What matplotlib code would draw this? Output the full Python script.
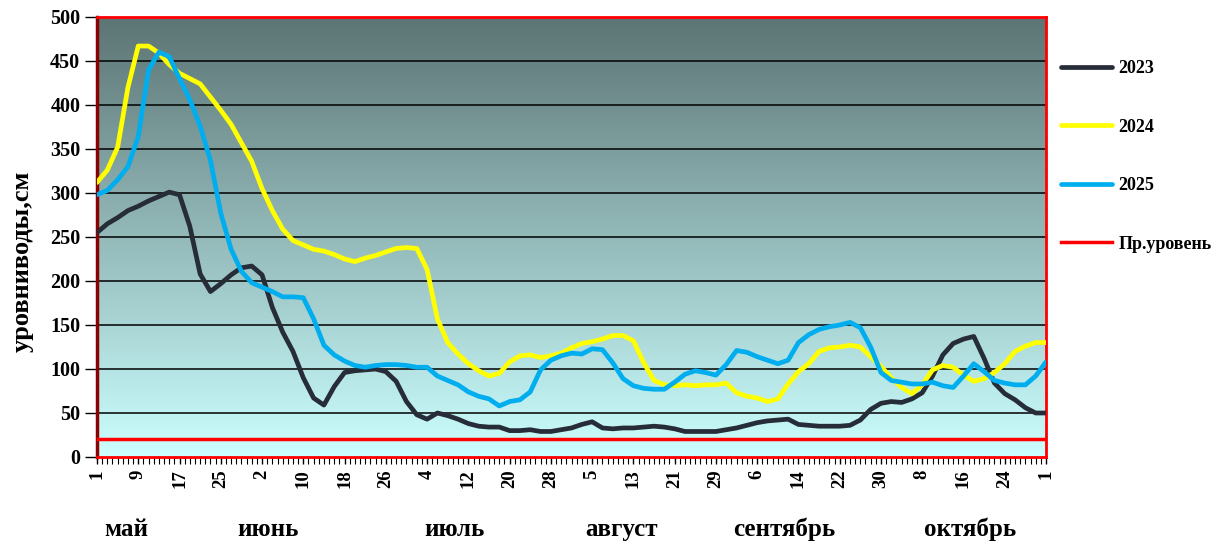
import numpy as np
import matplotlib
matplotlib.use("Agg")
import matplotlib.pyplot as plt
from matplotlib.colors import LinearSegmentedColormap

# day offset from 1 May (every 2 days up to 1 Nov)
days = np.arange(0, 185, 2)

lvl_2023 = [255, 265, 272, 280, 285, 291, 296, 301, 298, 262,
            208, 188, 197, 207, 215, 217, 207, 170, 142, 120,
            90, 67, 59, 80, 96, 98, 99, 100, 97, 86,
            63, 48, 43, 50, 47, 43, 38, 35, 34, 34,
            30, 30, 31, 29, 29, 31, 33, 37, 40, 33,
            32, 33, 33, 34, 35, 34, 32, 29, 29, 29,
            29, 31, 33, 36, 39, 41, 42, 43, 37, 36,
            35, 35, 35, 36, 42, 54, 61, 63, 62, 66,
            73, 92, 116, 129, 134, 137, 112, 84, 72, 65,
            56, 50, 50]

lvl_2024 = [312, 326, 352, 420, 467, 467, 459, 446, 436, 430,
            424, 409, 394, 378, 357, 336, 305, 280, 259, 246,
            241, 236, 234, 230, 225, 222, 226, 229, 233, 237,
            238, 237, 213, 157, 130, 117, 106, 98, 92, 95,
            108, 115, 116, 113, 115, 118, 124, 129, 131, 134,
            138, 138, 132, 107, 87, 82, 81, 82, 81, 82,
            82, 84, 73, 69, 67, 63, 66, 83, 97, 106,
            120, 124, 125, 127, 125, 114, 103, 90, 79, 72,
            82, 99, 104, 102, 93, 86, 89, 96, 106, 120,
            126, 130, 130]

lvl_2025 = [298, 303, 315, 330, 364, 440, 460, 455, 430, 406,
            376, 337, 277, 236, 211, 198, 193, 188, 182, 182,
            181, 157, 127, 116, 109, 104, 102, 104, 105, 105,
            104, 102, 102, 92, 87, 82, 74, 69, 66, 58,
            63, 65, 74, 99, 110, 115, 118, 117, 123, 122,
            107, 89, 81, 78, 77, 77, 85, 94, 98, 96,
            93, 105, 121, 119, 114, 110, 106, 110, 130, 139,
            145, 148, 150, 153, 147, 125, 96, 87, 85, 83,
            83, 85, 81, 79, 92, 106, 97, 87, 84, 82,
            82, 92, 108]

crit_level = 20

tick_days = np.arange(0, 185, 8)
tick_labels = ["1", "9", "17", "25", "2", "10", "18", "26", "4", "12", "20", "28",
               "5", "13", "21", "29", "6", "14", "22", "30", "8", "16", "24", "1"]

months = ["май", "июнь", "июль", "август", "сентябрь", "октябрь"]
month_pos = [5.6, 33.2, 69.4, 101.6, 133.3, 169.3]

serif = ["Liberation Serif", "DejaVu Serif"]
plt.rcParams["font.family"] = serif
plt.rcParams["font.weight"] = "bold"

fig = plt.figure(figsize=(12.28, 5.45), dpi=100)
ax = fig.add_axes([97 / 1228, 88 / 545, (1046 - 97) / 1228, (457 - 17) / 545])

# gradient background
cmap = LinearSegmentedColormap.from_list("bg", ["#CCFFFF", "#5C7474"])
grad = np.linspace(0, 1, 256).reshape(-1, 1)
ax.imshow(grad, cmap=cmap, origin="lower", extent=[0, 184, 0, 500],
          aspect="auto", zorder=0)

for y in range(50, 500, 50):
    ax.axhline(y, color="black", lw=1.1, zorder=1)

ax.plot(days, lvl_2023, color="#262C38", lw=3.4, label="2023", zorder=3,
        solid_joinstyle="round", solid_capstyle="round")
ax.plot(days, lvl_2024, color="#FFFF00", lw=3.4, label="2024", zorder=4,
        solid_joinstyle="round", solid_capstyle="round")
ax.plot(days, lvl_2025, color="#00AEEF", lw=3.4, label="2025", zorder=5,
        solid_joinstyle="round", solid_capstyle="round")
ax.axhline(crit_level, color="#FF0000", lw=2.5, label="Пр.уровень", zorder=6)

ax.set_xlim(0, 184)
ax.set_ylim(0, 500)

ax.set_yticks(range(0, 501, 50))
ax.tick_params(axis="y", labelsize=14.5, length=9, width=1, direction="out",
               color="black", pad=3)
ax.set_xticks(tick_days)
ax.set_xticklabels(tick_labels, rotation=90, fontsize=13.5, fontweight="bold")
ax.set_xticks(np.arange(0, 185, 1), minor=True)
ax.tick_params(axis="x", which="major", length=5, width=1, direction="out", pad=4)
ax.tick_params(axis="x", which="minor", length=5, width=0.8, direction="out")
for lab in ax.get_yticklabels():
    lab.set_fontweight("bold")

for sp in ["top", "right", "bottom"]:
    ax.spines[sp].set_color("#FF0000")
    ax.spines[sp].set_linewidth(2)
ax.spines["left"].set_color("#8B0000")
ax.spines["left"].set_linewidth(2.5)

ax.set_ylabel("уровниводы,см", fontsize=19, fontweight="bold", va="center")
ax.yaxis.set_label_coords(-0.079, 0.445)

for m, p in zip(months, month_pos):
    ax.text(p, -0.165, m, transform=ax.get_xaxis_transform(), ha="center",
            va="center", fontsize=18, fontweight="bold")

leg = ax.legend(loc="upper left", bbox_to_anchor=(1061 / 1228, 1 - 60 / 545),
                bbox_transform=fig.transFigure, frameon=False, fontsize=13,
                handlelength=2.85, handletextpad=0.33, labelspacing=2.3,
                borderpad=0, borderaxespad=0)
for t in leg.get_texts():
    t.set_fontweight("bold")

fig.savefig("out.png", dpi=100)
